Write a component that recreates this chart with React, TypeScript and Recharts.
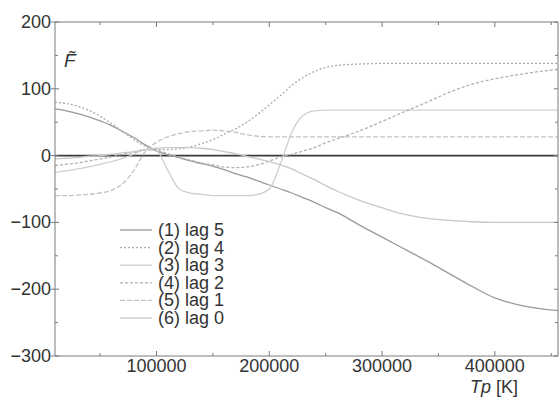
import React from "react"
import {
  LineChart,
  Line,
  XAxis,
  YAxis,
  ReferenceLine,
  Legend,
} from "recharts"

// Tp [K] sample positions
const tpK = [
  10000, 20000, 30000, 40000, 50000, 60000, 70000, 80000, 90000, 100000,
  110000, 120000, 130000, 140000, 150000, 160000, 170000, 180000, 190000, 200000,
  210000, 220000, 230000, 240000, 250000, 260000, 280000, 300000, 320000, 340000,
  360000, 380000, 400000, 420000, 440000, 456000,
]

const lag5 = [70, 67, 63, 58, 52, 45, 36, 27, 16, 7, 1, -3, -8, -12, -16, -21, -27, -32, -38, -44, -50, -56, -63, -70, -78, -85, -104, -122, -140, -158, -177, -196, -213, -223, -229, -232]
const lag4 = [80, 78, 74, 68, 59, 48, 36, 24, 14, 9, 9, 10, 13, 18, 24, 32, 40, 50, 62, 76, 90, 105, 117, 126, 132, 135, 137, 138, 138, 138, 138, 138, 138, 138, 138, 138]
const lag3 = [-25, -23, -20, -17, -13, -9, -4, 2, 9, 7, -22, -50, -56, -58, -60, -60, -60, -60, -58, -50, -12, 35, 60, 67, 68, 68, 68, 68, 68, 68, 68, 68, 68, 68, 68, 68]
const lag2 = [-15, -13, -11, -8, -5, -2, 2, 5, 9, 8, 3, -2, -7, -11, -14, -17, -18, -17, -14, -8, -2, 2, 7, 12, 19, 25, 37, 51, 66, 80, 95, 107, 115, 121, 126, 129]
const lag1 = [-60, -60, -59, -58, -56, -52, -42, -22, 6, 20, 28, 33, 36, 37, 38, 37, 35, 31, 29, 28, 28, 28, 28, 28, 28, 28, 28, 28, 28, 28, 28, 28, 28, 28, 28, 28]
const lag0 = [-5, -4, -3, -1, 0, 2, 4, 6, 9, 11, 12, 12, 12, 11, 9, 6, 3, -1, -5, -9, -14, -20, -28, -36, -45, -53, -67, -78, -88, -94, -97, -99, -100, -100, -100, -100]

const yTicks = [-300, -250, -200, -150, -100, -50, 0, 50, 100, 150, 200]
const xTicks = [50000, 100000, 150000, 200000, 250000, 300000, 350000, 400000, 450000]

const series = [
  { key: "lag5", name: "(1) lag 5", color: "#9a9a9a", dash: undefined },
  { key: "lag4", name: "(2) lag 4", color: "#ababab", dash: "2 2" },
  { key: "lag3", name: "(3) lag 3", color: "#cfcfcf", dash: undefined },
  { key: "lag2", name: "(4) lag 2", color: "#b0b0b0", dash: "3 2" },
  { key: "lag1", name: "(5) lag 1", color: "#c2c2c2", dash: "5 2" },
  { key: "lag0", name: "(6) lag 0", color: "#c8c8c8", dash: undefined },
]

const data = tpK.map((t, i) => ({
  tp: t,
  lag5: lag5[i],
  lag4: lag4[i],
  lag3: lag3[i],
  lag2: lag2[i],
  lag1: lag1[i],
  lag0: lag0[i],
}))

const AXIS = "#7a7a7a"
const TEXT = "#333"
const FONT = "'Liberation Sans', Arial, sans-serif"

const fmtY = (v: number) => (v < 0 ? "\u2212" + Math.abs(v) : String(v))

const LeftTick = (props: any) => {
  const { x, y, payload } = props
  const major = payload.value % 100 === 0
  return (
    <g>
      <line x1={x} x2={x + (major ? 4 : 3)} y1={y} y2={y} stroke={AXIS} />
      {major && <line x1={x - 4} x2={x} y1={y} y2={y} stroke={AXIS} />}
      {major && (
        <text x={x - 4} y={y} dy={6} textAnchor="end" fontSize={18} fill={TEXT} fontFamily={FONT}>
          {fmtY(payload.value)}
        </text>
      )}
    </g>
  )
}

const RightTick = (props: any) => {
  const { x, y, payload } = props
  const major = payload.value % 100 === 0
  return <line x1={x} x2={x - (major ? 4 : 3)} y1={y} y2={y} stroke={AXIS} />
}

const BottomTick = (props: any) => {
  const { x, y, payload } = props
  const major = payload.value % 100000 === 0
  return (
    <g>
      <line x1={x} x2={x} y1={y} y2={y - (major ? 5 : 3)} stroke={AXIS} />
      {major && (
        <text x={x} y={y} dy={16} textAnchor="middle" fontSize={18} fill={TEXT} fontFamily={FONT}>
          {payload.value}
        </text>
      )}
    </g>
  )
}

const TopTick = (props: any) => {
  const { x, y, payload } = props
  const major = payload.value % 100000 === 0
  return <line x1={x} x2={x} y1={y} y2={y + (major ? 5 : 3)} stroke={AXIS} />
}

const LegendBox = () => (
  <svg width={140} height={110}>
    {series.map((s, i) => (
      <g key={s.key}>
        <line
          x1={2}
          x2={34}
          y1={10 + i * 17.6}
          y2={10 + i * 17.6}
          stroke={s.color}
          strokeWidth={1.3}
          strokeDasharray={s.dash}
        />
        <text x={40} y={10 + i * 17.6} dy={6} fontSize={18} fill={TEXT} fontFamily={FONT}>
          {s.name}
        </text>
      </g>
    ))}
  </svg>
)

export default function App() {
  return (
    <div
      style={{
        position: "absolute",
        left: 0,
        top: 0,
        width: 559,
        height: 399,
        background: "#fff",
        fontFamily: FONT,
      }}
    >
      <LineChart width={559} height={399} data={data} margin={{ top: 0, right: 0, bottom: 0, left: 0 }}>
        <XAxis
          xAxisId="b"
          dataKey="tp"
          type="number"
          domain={[10000, 456000]}
          ticks={xTicks}
          interval={0}
          height={43}
          tickSize={0}
          tickMargin={0}
          tickLine={false}
          stroke={AXIS}
          tick={<BottomTick />}
          allowDataOverflow
        />
        <XAxis
          xAxisId="t"
          orientation="top"
          dataKey="tp"
          type="number"
          domain={[10000, 456000]}
          ticks={xTicks}
          interval={0}
          height={22}
          tickSize={0}
          tickMargin={0}
          tickLine={false}
          stroke={AXIS}
          tick={<TopTick />}
          allowDataOverflow
        />
        <YAxis
          yAxisId="l"
          type="number"
          domain={[-300, 200]}
          ticks={yTicks}
          interval={0}
          width={55}
          tickSize={0}
          tickMargin={0}
          tickLine={false}
          stroke={AXIS}
          tick={<LeftTick />}
          allowDataOverflow
        />
        <YAxis
          yAxisId="r"
          orientation="right"
          type="number"
          domain={[-300, 200]}
          ticks={yTicks}
          interval={0}
          width={1}
          tickSize={0}
          tickMargin={0}
          tickLine={false}
          stroke={AXIS}
          tick={<RightTick />}
          allowDataOverflow
        />
        <ReferenceLine xAxisId="b" yAxisId="l" y={0} stroke="#3a3a3a" strokeWidth={1.6} />
        {series.map((s) => (
          <Line
            key={s.key}
            xAxisId="b"
            yAxisId="l"
            type="monotone"
            dataKey={s.key}
            name={s.name}
            stroke={s.color}
            strokeWidth={1.3}
            strokeDasharray={s.dash}
            dot={false}
            isAnimationActive={false}
          />
        ))}
        <Legend
          layout="vertical"
          align="center"
          verticalAlign="middle"
          content={<LegendBox />}
          wrapperStyle={{ position: "absolute", left: 118, top: 220, width: 140, height: 110 }}
        />
      </LineChart>
      <div
        style={{
          position: "absolute",
          left: 64,
          top: 50,
          fontSize: 19,
          fontStyle: "italic",
          color: TEXT,
          lineHeight: "22px",
        }}
      >
        {"F\u0303"}
      </div>
      <div
        style={{
          position: "absolute",
          left: 470,
          top: 377,
          fontSize: 18,
          color: TEXT,
          lineHeight: "20px",
          whiteSpace: "nowrap",
        }}
      >
        <span style={{ fontStyle: "italic" }}>Tp</span> [K]
      </div>
    </div>
  )
}
